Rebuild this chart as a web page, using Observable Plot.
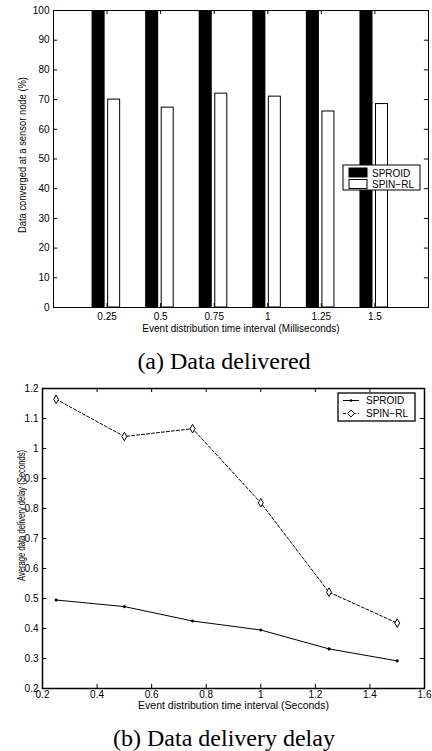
<!DOCTYPE html>
<html><head><meta charset="utf-8">
<script src="https://cdn.jsdelivr.net/npm/d3@7"></script>
<script src="https://cdn.jsdelivr.net/npm/@observablehq/plot@0.6"></script>
<style>
body{margin:0;background:#fff;width:432px;height:751px;position:relative;overflow:hidden}
#a,#b{position:absolute;left:0}
#a{top:0}
#b{top:370px}
.cap{position:absolute;left:0;width:432px;text-align:center;font-family:"Liberation Serif","Times New Roman",serif;font-size:24px;line-height:24px;padding-left:16px;box-sizing:border-box;color:#000;white-space:nowrap}
</style></head><body>
<div id="a"></div>
<div id="b"></div>
<div class="cap" style="top:349px">(a) Data delivered</div>
<div class="cap" style="top:726px">(b) Data delivery delay</div>
<script>
// ---- Chart (a) data ----
const intervalsA = [0.25, 0.5, 0.75, 1, 1.25, 1.5];
const sproidDelivered = [100, 100, 100, 100, 100, 100];
const spinDelivered = [70, 67.3, 72, 71, 66, 68.5];
const yTicksA = [0, 10, 20, 30, 40, 50, 60, 70, 80, 90, 100];
const xDomainA = [0, 1.75];
const yDomainA = [0, 100];

// ---- Chart (b) data ----
const intervalsB = [0.25, 0.5, 0.75, 1, 1.25, 1.5];
const sproidDelay = [0.495, 0.473, 0.425, 0.395, 0.332, 0.292];
const spinDelay = [1.164, 1.04, 1.066, 0.819, 0.521, 0.418];
const xTicksB = [0.2, 0.4, 0.6, 0.8, 1, 1.2, 1.4, 1.6];
const yTicksB = [0.2, 0.3, 0.4, 0.5, 0.6, 0.7, 0.8, 0.9, 1, 1.1, 1.2];
const xDomainB = [0.2, 1.6];
const yDomainB = [0.2, 1.2];

const seriesNames = ["SPROID", "SPIN\u2212RL"];
const labelsA = {x: "Event distribution time interval (Milliseconds)", y: "Data converged at a sensor node (%)"};
const labelsB = {x: "Event distribution time interval (Seconds)", y: "Average data delivery delay (Seconds)"};

const sans = "'Liberation Sans', Arial, Helvetica, sans-serif";
const font = {fontFamily: sans, fontSize: "10px", color: "black", background: "white", overflow: "visible"};

// inward tick helpers (lengths as fraction of domain)
function inwardTicks(xd, yd, xt, yt, fx, fy) {
  const lx = (xd[1] - xd[0]) * fx, ly = (yd[1] - yd[0]) * fy;
  return [
    Plot.ruleY(yt, {y: d => d, x1: () => xd[0], x2: () => xd[0] + lx, stroke: "black"}),
    Plot.ruleY(yt, {y: d => d, x1: () => xd[1] - lx, x2: () => xd[1], stroke: "black"}),
    Plot.ruleX(xt, {x: d => d, y1: () => yd[0], y2: () => yd[0] + ly, stroke: "black"}),
    Plot.ruleX(xt, {x: d => d, y1: () => yd[1] - ly, y2: () => yd[1], stroke: "black"})
  ];
}
function fitText(svgEl, str, len) {
  d3.select(svgEl).selectAll("text").filter(function () { return this.textContent === str; })
    .attr("textLength", len).attr("lengthAdjust", "spacingAndGlyphs");
}

// ---- Chart (a) ----
const rowsA = intervalsA.map((x, i) => ({x, sproid: sproidDelivered[i], spin: spinDelivered[i]}));
const mA = {top: 10, right: 4, bottom: 33, left: 53};
const plotA = Plot.plot({
  width: 432, height: 340,
  marginTop: mA.top, marginRight: mA.right, marginBottom: mA.bottom, marginLeft: mA.left,
  style: font,
  x: {type: "linear", domain: xDomainA},
  y: {domain: yDomainA},
  marks: [
    Plot.rect(rowsA, {x1: d => d.x - 0.070, x2: d => d.x - 0.009, y1: () => 0, y2: "sproid", fill: "black"}),
    Plot.rect(rowsA, {x1: d => d.x + 0.005, x2: d => d.x + 0.061, y1: () => 0, y2: "spin", fill: "white", stroke: "black", strokeWidth: 1}),
    ...inwardTicks(xDomainA, yDomainA, intervalsA, yTicksA, 0.011, 0.0135),
    Plot.axisY({ticks: yTicksA, tickSize: 0, tickPadding: 4, label: null, fontSize: 10}),
    Plot.axisX({ticks: intervalsA, tickSize: 0, tickPadding: 5, label: null, fontSize: 10, tickFormat: d => String(d)}),
    Plot.text([labelsA.x], {text: d => d, frameAnchor: "bottom", dy: 24, fontSize: 10, textAnchor: "middle"}),
    Plot.text([labelsA.y], {text: d => d, frameAnchor: "left", rotate: -90, dx: -31, dy: -4, fontSize: 10, textAnchor: "middle"}),
    Plot.frame({stroke: "black", strokeWidth: 1})
  ]
});
document.getElementById("a").append(plotA);
fitText(plotA, labelsA.y, 156);

// legend (a)
{
  const svg = d3.select(plotA);
  const right = 432 - mA.right - 8, top = mA.top + 155, w = 77, h = 25;
  const g = svg.append("g").attr("font-family", sans).attr("font-size", 10).attr("text-anchor", "start");
  g.append("rect").attr("x", right - w).attr("y", top).attr("width", w).attr("height", h).attr("fill", "white").attr("stroke", "black");
  const fills = ["black", "white"];
  seriesNames.forEach((name, i) => {
    const yy = top + 3 + i * 11.5;
    g.append("rect").attr("x", right - w + 6).attr("y", yy).attr("width", 18).attr("height", 9).attr("fill", fills[i]).attr("stroke", "black");
    g.append("text").attr("x", right - w + 29).attr("y", yy + 8.5).attr("text-anchor", "start").text(name);
  });
}

// ---- Chart (b) ----
const rowsB = intervalsB.map((x, i) => ({x, sproid: sproidDelay[i], spin: spinDelay[i]}));
const mB = {top: 18, right: 8, bottom: 17, left: 42};
const plotB = Plot.plot({
  width: 432, height: 335,
  marginTop: mB.top, marginRight: mB.right, marginBottom: mB.bottom, marginLeft: mB.left,
  style: font,
  x: {domain: xDomainB},
  y: {domain: yDomainB},
  marks: [
    ...inwardTicks(xDomainB, yDomainB, xTicksB, yTicksB, 0.011, 0.0135),
    Plot.line(rowsB, {x: "x", y: "sproid", stroke: "black", strokeWidth: 1}),
    Plot.dot(rowsB, {x: "x", y: "sproid", r: 1.3, fill: "black", stroke: "black", strokeWidth: 0.5}),
    Plot.line(rowsB, {x: "x", y: "spin", stroke: "black", strokeWidth: 1, strokeDasharray: "3,2"}),
    Plot.dot(rowsB, {x: "x", y: "spin", symbol: "diamond", r: 2.6, fill: "white", stroke: "black", strokeWidth: 1}),
    Plot.axisY({ticks: yTicksB, tickSize: 0, tickPadding: 4, label: null, fontSize: 10, tickFormat: d => String(d)}),
    Plot.axisX({ticks: xTicksB, tickSize: 0, tickPadding: 2, label: null, fontSize: 10, tickFormat: d => String(d)}),
    Plot.text([labelsB.x], {text: d => d, frameAnchor: "bottom", dy: 20.5, fontSize: 10.5, textAnchor: "middle"}),
    Plot.text([labelsB.y], {text: d => d, frameAnchor: "left", rotate: -90, dx: -21, dy: -23, fontSize: 10, textAnchor: "middle"}),
    Plot.frame({stroke: "black", strokeWidth: 1.5})
  ]
});
document.getElementById("b").append(plotB);
fitText(plotB, labelsB.y, 131);

// legend (b)
{
  const svg = d3.select(plotB);
  const right = 432 - mB.right - 9, top = mB.top + 5, w = 77, h = 28;
  const g = svg.append("g").attr("font-family", sans).attr("font-size", 10).attr("text-anchor", "start");
  g.append("rect").attr("x", right - w).attr("y", top).attr("width", w).attr("height", h).attr("fill", "white").attr("stroke", "black").attr("stroke-width", 1.3);
  const dashes = [null, "3,2"];
  seriesNames.forEach((name, i) => {
    const yy = top + 7.5 + i * 13;
    const x0 = right - w + 5, x1 = x0 + 16, xm = (x0 + x1) / 2;
    g.append("line").attr("x1", x0).attr("x2", x1).attr("y1", yy).attr("y2", yy).attr("stroke", "black").attr("stroke-dasharray", dashes[i]);
    if (i === 0) g.append("circle").attr("cx", xm).attr("cy", yy).attr("r", 1.3).attr("fill", "black");
    else g.append("path").attr("d", d3.symbol(d3.symbolDiamond2, 30)()).attr("transform", `translate(${xm},${yy})`).attr("fill", "white").attr("stroke", "black");
    g.append("text").attr("x", right - w + 28).attr("y", yy + 3.5).attr("text-anchor", "start").text(name);
  });
}
</script>
</body></html>
